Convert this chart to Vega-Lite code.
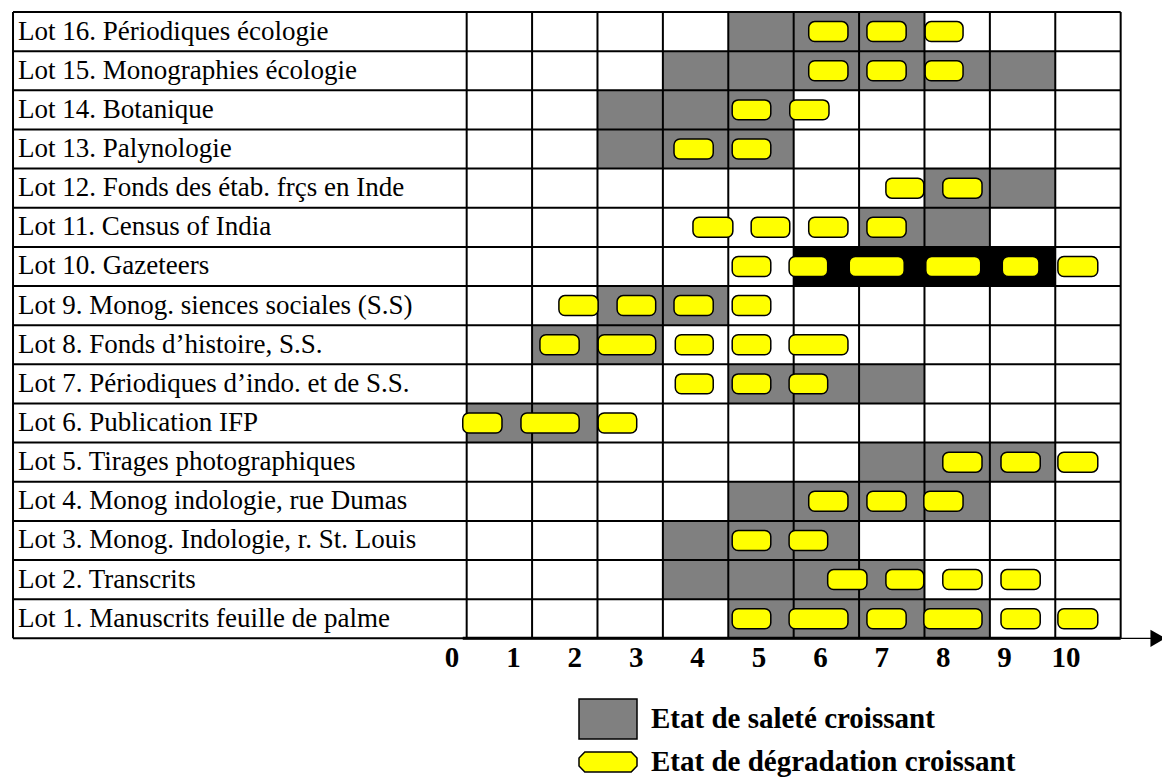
{
  "$schema": "https://vega.github.io/schema/vega-lite/v6.json",
  "width": 1162,
  "height": 778,
  "autosize": {"type": "none"},
  "padding": 0,
  "background": "white",
  "config": {"view": {"stroke": null}},
  "datasets": {
    "lots": [
      {"lot": 16, "label": "Lot 16. Périodiques écologie"},
      {"lot": 15, "label": "Lot 15. Monographies écologie"},
      {"lot": 14, "label": "Lot 14. Botanique"},
      {"lot": 13, "label": "Lot 13. Palynologie"},
      {"lot": 12, "label": "Lot 12. Fonds des étab. frçs en Inde"},
      {"lot": 11, "label": "Lot 11. Census of India"},
      {"lot": 10, "label": "Lot 10. Gazeteers"},
      {"lot": 9, "label": "Lot 9. Monog. siences sociales (S.S)"},
      {"lot": 8, "label": "Lot 8. Fonds d’histoire, S.S."},
      {"lot": 7, "label": "Lot 7. Périodiques d’indo. et de S.S."},
      {"lot": 6, "label": "Lot 6. Publication IFP"},
      {"lot": 5, "label": "Lot 5. Tirages photographiques"},
      {"lot": 4, "label": "Lot 4. Monog indologie, rue Dumas"},
      {"lot": 3, "label": "Lot 3. Monog. Indologie, r. St. Louis"},
      {"lot": 2, "label": "Lot 2. Transcrits"},
      {"lot": 1, "label": "Lot 1. Manuscrits feuille de palme"}
    ],
    "cells": [
      {"lot": 16, "start": 4, "end": 7, "etat": "Etat de saleté croissant"},
      {"lot": 15, "start": 3, "end": 9, "etat": "Etat de saleté croissant"},
      {"lot": 14, "start": 2, "end": 5, "etat": "Etat de saleté croissant"},
      {"lot": 13, "start": 2, "end": 5, "etat": "Etat de saleté croissant"},
      {"lot": 12, "start": 7, "end": 9, "etat": "Etat de saleté croissant"},
      {"lot": 11, "start": 6, "end": 8, "etat": "Etat de saleté croissant"},
      {"lot": 10, "start": 5, "end": 9, "etat": "Très sale"},
      {"lot": 9, "start": 2, "end": 4, "etat": "Etat de saleté croissant"},
      {"lot": 8, "start": 1, "end": 3, "etat": "Etat de saleté croissant"},
      {"lot": 7, "start": 4, "end": 7, "etat": "Etat de saleté croissant"},
      {"lot": 6, "start": 0, "end": 2, "etat": "Etat de saleté croissant"},
      {"lot": 5, "start": 6, "end": 9, "etat": "Etat de saleté croissant"},
      {"lot": 4, "start": 4, "end": 8, "etat": "Etat de saleté croissant"},
      {"lot": 3, "start": 3, "end": 6, "etat": "Etat de saleté croissant"},
      {"lot": 2, "start": 3, "end": 7, "etat": "Etat de saleté croissant"},
      {"lot": 1, "start": 4, "end": 8, "etat": "Etat de saleté croissant"}
    ],
    "ovals": [
      {"lot": 16, "x0": 5.23, "x1": 5.83}, {"lot": 16, "x0": 6.12, "x1": 6.72}, {"lot": 16, "x0": 7.01, "x1": 7.59},
      {"lot": 15, "x0": 5.23, "x1": 5.83}, {"lot": 15, "x0": 6.12, "x1": 6.72}, {"lot": 15, "x0": 7.01, "x1": 7.59},
      {"lot": 14, "x0": 4.06, "x1": 4.65}, {"lot": 14, "x0": 4.94, "x1": 5.54},
      {"lot": 13, "x0": 3.17, "x1": 3.77}, {"lot": 13, "x0": 4.06, "x1": 4.65},
      {"lot": 12, "x0": 6.41, "x1": 6.99}, {"lot": 12, "x0": 7.28, "x1": 7.88},
      {"lot": 11, "x0": 3.46, "x1": 4.07}, {"lot": 11, "x0": 4.35, "x1": 4.94}, {"lot": 11, "x0": 5.23, "x1": 5.83}, {"lot": 11, "x0": 6.12, "x1": 6.72},
      {"lot": 10, "x0": 4.06, "x1": 4.65}, {"lot": 10, "x0": 4.93, "x1": 5.52}, {"lot": 10, "x0": 5.85, "x1": 6.69}, {"lot": 10, "x0": 7.02, "x1": 7.86}, {"lot": 10, "x0": 8.19, "x1": 8.75}, {"lot": 10, "x0": 9.04, "x1": 9.65},
      {"lot": 9, "x0": 1.41, "x1": 2.01}, {"lot": 9, "x0": 2.3, "x1": 2.89}, {"lot": 9, "x0": 3.17, "x1": 3.77}, {"lot": 9, "x0": 4.06, "x1": 4.65},
      {"lot": 8, "x0": 1.12, "x1": 1.72}, {"lot": 8, "x0": 2.01, "x1": 2.89}, {"lot": 8, "x0": 3.19, "x1": 3.77}, {"lot": 8, "x0": 4.06, "x1": 4.65}, {"lot": 8, "x0": 4.93, "x1": 5.83},
      {"lot": 7, "x0": 3.19, "x1": 3.77}, {"lot": 7, "x0": 4.06, "x1": 4.65}, {"lot": 7, "x0": 4.93, "x1": 5.52},
      {"lot": 6, "x0": -0.06, "x1": 0.54}, {"lot": 6, "x0": 0.83, "x1": 1.72}, {"lot": 6, "x0": 2.01, "x1": 2.6},
      {"lot": 5, "x0": 7.28, "x1": 7.88}, {"lot": 5, "x0": 8.17, "x1": 8.77}, {"lot": 5, "x0": 9.04, "x1": 9.65},
      {"lot": 4, "x0": 5.23, "x1": 5.83}, {"lot": 4, "x0": 6.12, "x1": 6.72}, {"lot": 4, "x0": 6.99, "x1": 7.59},
      {"lot": 3, "x0": 4.06, "x1": 4.65}, {"lot": 3, "x0": 4.93, "x1": 5.52},
      {"lot": 2, "x0": 5.52, "x1": 6.12}, {"lot": 2, "x0": 6.41, "x1": 6.99}, {"lot": 2, "x0": 7.28, "x1": 7.88}, {"lot": 2, "x0": 8.17, "x1": 8.77},
      {"lot": 1, "x0": 4.06, "x1": 4.65}, {"lot": 1, "x0": 4.93, "x1": 5.83}, {"lot": 1, "x0": 6.12, "x1": 6.72}, {"lot": 1, "x0": 6.99, "x1": 7.88}, {"lot": 1, "x0": 8.17, "x1": 8.77}, {"lot": 1, "x0": 9.04, "x1": 9.65}
    ],
    "hlines": [{"b": 0}, {"b": 1}, {"b": 2}, {"b": 3}, {"b": 4}, {"b": 5}, {"b": 6}, {"b": 7}, {"b": 8}, {"b": 9}, {"b": 10}, {"b": 11}, {"b": 12}, {"b": 13}, {"b": 14}, {"b": 15}, {"b": 16}],
    "vlines": [{"v": -6.937}, {"v": 0}, {"v": 1}, {"v": 2}, {"v": 3}, {"v": 4}, {"v": 5}, {"v": 6}, {"v": 7}, {"v": 8}, {"v": 9}, {"v": 10}],
    "digits": [{"n": 0}, {"n": 1}, {"n": 2}, {"n": 3}, {"n": 4}, {"n": 5}, {"n": 6}, {"n": 7}, {"n": 8}, {"n": 9}, {"n": 10}]
  },
  "layer": [
    {
      "data": {"name": "cells"},
      "mark": {"type": "rect"},
      "encoding": {
        "x": {"field": "start", "type": "quantitative", "axis": null, "scale": {"domain": [-7.136, 10.632], "nice": false, "zero": false}},
        "x2": {"field": "end"},
        "y": {"field": "lot", "type": "ordinal", "axis": null, "scale": {"type": "band", "domain": [16, 15, 14, 13, 12, 11, 10, 9, 8, 7, 6, 5, 4, 3, 2, 1], "range": [12, 638.3], "paddingInner": 0, "paddingOuter": 0}},
        "fill": {
          "field": "etat", "type": "nominal",
          "scale": {"domain": ["Etat de saleté croissant", "Très sale"], "range": ["#808080", "#000000"]},
          "legend": {
            "values": ["Etat de saleté croissant"], "title": null, "orient": "none", "legendX": 578, "legendY": 689,
            "symbolType": "M-1,-0.69H1V0.69H-1Z", "symbolSize": 3364, "symbolStrokeColor": "#000000", "symbolStrokeWidth": 1.5, "symbolOpacity": 1,
            "labelFont": "Liberation Serif", "labelFontSize": 29, "labelFontWeight": "bold", "labelColor": "#000000", "labelOffset": 13, "labelLimit": 0, "padding": 0
          }
        }
      }
    },
    {
      "layer": [
        {
          "data": {"name": "hlines"},
          "mark": {"type": "rule", "color": "#000000", "strokeWidth": 2},
          "encoding": {
            "y": {"field": "b", "type": "quantitative", "axis": null, "scale": {"domain": [-3.569, 16.308], "nice": false, "zero": false}},
            "x": {"datum": -6.937, "type": "quantitative", "axis": null, "scale": {"domain": [-7.136, 10.632], "nice": false, "zero": false}},
            "x2": {"datum": 10}
          }
        },
        {
          "data": {"name": "vlines"},
          "mark": {"type": "rule", "color": "#000000", "strokeWidth": 2},
          "encoding": {
            "x": {"field": "v", "type": "quantitative"},
            "y": {"datum": 0, "type": "quantitative"},
            "y2": {"datum": 16}
          }
        },
        {
          "data": {"values": [{}]},
          "mark": {"type": "rule", "color": "#000000", "strokeWidth": 3},
          "encoding": {
            "x": {"datum": -0.06, "type": "quantitative"},
            "x2": {"datum": 10},
            "y": {"datum": 0, "type": "quantitative"}
          }
        },
        {
          "data": {"values": [{}]},
          "mark": {"type": "rule", "color": "#000000", "strokeWidth": 1.2},
          "encoding": {
            "x": {"datum": 10, "type": "quantitative"},
            "x2": {"datum": 10.5},
            "y": {"datum": 0, "type": "quantitative"}
          }
        },
        {
          "data": {"values": [{}]},
          "mark": {"type": "point", "shape": "triangle-right", "filled": true, "color": "#000000", "size": 300, "opacity": 1},
          "encoding": {
            "x": {"datum": 10.57, "type": "quantitative"},
            "y": {"datum": 0, "type": "quantitative"}
          }
        }
      ]
    },
    {
      "data": {"name": "ovals"},
      "mark": {"type": "bar", "height": {"band": 0.51}, "cornerRadius": 6, "stroke": "#000000", "strokeWidth": 1.5},
      "encoding": {
        "x": {"field": "x0", "type": "quantitative", "axis": null, "scale": {"domain": [-7.136, 10.632], "nice": false, "zero": false}},
        "x2": {"field": "x1"},
        "y": {"field": "lot", "type": "ordinal", "axis": null, "scale": {"type": "band", "domain": [16, 15, 14, 13, 12, 11, 10, 9, 8, 7, 6, 5, 4, 3, 2, 1], "range": [12, 638.3], "paddingInner": 0, "paddingOuter": 0}},
        "fill": {
          "datum": "Etat de dégradation croissant", "type": "nominal",
          "scale": {"domain": ["Etat de dégradation croissant"], "range": ["#FFFF00"]},
          "legend": {
            "title": null, "orient": "none", "legendX": 578, "legendY": 732,
            "symbolType": "M-0.8,-0.345H0.8L1,-0.14V0.14L0.8,0.345H-0.8L-1,0.14V-0.14Z", "symbolSize": 3364, "symbolStrokeColor": "#000000", "symbolStrokeWidth": 1.5, "symbolOpacity": 1,
            "labelFont": "Liberation Serif", "labelFontSize": 29, "labelFontWeight": "bold", "labelColor": "#000000", "labelOffset": 13, "labelLimit": 0, "padding": 0
          }
        }
      }
    },
    {
      "data": {"name": "lots"},
      "mark": {"type": "text", "align": "left", "baseline": "middle", "font": "Liberation Serif", "fontSize": 27, "color": "#000000"},
      "encoding": {
        "x": {"datum": -6.86, "type": "quantitative", "axis": null, "scale": {"domain": [-7.136, 10.632], "nice": false, "zero": false}},
        "y": {"field": "lot", "type": "ordinal", "axis": null, "scale": {"type": "band", "domain": [16, 15, 14, 13, 12, 11, 10, 9, 8, 7, 6, 5, 4, 3, 2, 1], "range": [12, 638.3], "paddingInner": 0, "paddingOuter": 0}},
        "text": {"field": "label"}
      }
    },
    {
      "data": {"name": "digits"},
      "mark": {"type": "text", "align": "center", "baseline": "middle", "font": "Liberation Serif", "fontSize": 29, "fontWeight": "bold", "color": "#000000"},
      "encoding": {
        "x": {"field": "n", "type": "quantitative", "axis": null, "scale": {"domain": [-7.362, 11.564], "nice": false, "zero": false}},
        "y": {"datum": -0.5, "type": "quantitative", "axis": null, "scale": {"domain": [-3.569, 16.308], "nice": false, "zero": false}},
        "text": {"field": "n", "type": "quantitative"}
      }
    }
  ],
  "resolve": {"scale": {"x": "independent", "y": "independent", "fill": "independent"}, "legend": {"fill": "independent"}}
}
